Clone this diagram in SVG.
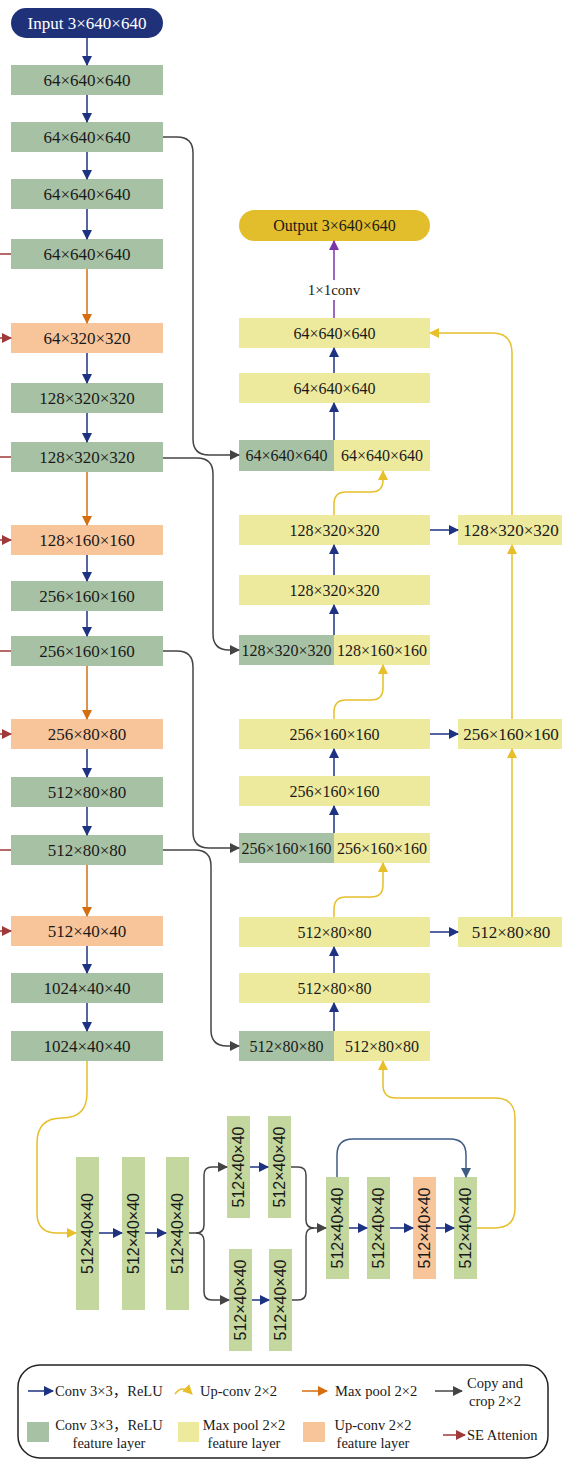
<svg xmlns="http://www.w3.org/2000/svg" width="562" height="1460" viewBox="0 0 562 1460">
<defs>
<marker id="aB" viewBox="0 0 10 10" refX="9" refY="5" markerWidth="10" markerHeight="10" markerUnits="userSpaceOnUse" orient="auto"><path d="M0,0 L10,5 L0,10 z" fill="#1e3282"/></marker>
<marker id="aO" viewBox="0 0 10 10" refX="9" refY="5" markerWidth="10" markerHeight="10" markerUnits="userSpaceOnUse" orient="auto"><path d="M0,0 L10,5 L0,10 z" fill="#d46e10"/></marker>
<marker id="aG" viewBox="0 0 10 10" refX="9" refY="5" markerWidth="10" markerHeight="10" markerUnits="userSpaceOnUse" orient="auto"><path d="M0,0 L10,5 L0,10 z" fill="#444"/></marker>
<marker id="aY" viewBox="0 0 10 10" refX="9" refY="5" markerWidth="10" markerHeight="10" markerUnits="userSpaceOnUse" orient="auto"><path d="M0,0 L10,5 L0,10 z" fill="#e6bf2b"/></marker>
<marker id="aR" viewBox="0 0 10 10" refX="9" refY="5" markerWidth="10" markerHeight="10" markerUnits="userSpaceOnUse" orient="auto"><path d="M0,0 L10,5 L0,10 z" fill="#a0393a"/></marker>
<marker id="aP" viewBox="0 0 10 10" refX="9" refY="5" markerWidth="10" markerHeight="10" markerUnits="userSpaceOnUse" orient="auto"><path d="M0,0 L10,5 L0,10 z" fill="#7b34a8"/></marker>
<marker id="aS" viewBox="0 0 10 10" refX="9" refY="5" markerWidth="10" markerHeight="10" markerUnits="userSpaceOnUse" orient="auto"><path d="M0,0 L10,5 L0,10 z" fill="#3e5d85"/></marker>
</defs>
<style>
.g{fill:#a7c1a4}.y{fill:#ede99d}.o{fill:#f8c49a}.v{fill:#c4d79f}
.t{font-family:"Liberation Serif","Times New Roman",serif;font-size:17px;fill:#1a1a1a;text-anchor:middle;dominant-baseline:central}
.tc{font-size:16px}
.tw{fill:#ffffff}
.tv{font-family:"Liberation Sans",Arial,sans-serif;font-size:16px;fill:#1a1a1a;text-anchor:middle;dominant-baseline:central}
.c{fill:none;stroke-width:1.5}
.cb{stroke:#1e3282;marker-end:url(#aB)}
.co{stroke:#d46e10;marker-end:url(#aO)}
.cg{stroke:#444;marker-end:url(#aG)}
.cy{stroke:#e6bf2b;marker-end:url(#aY)}
.cr{stroke:#a0393a}
.cp{stroke:#7b34a8}
.cs{stroke:#3e5d85;marker-end:url(#aS)}
.lg{font-family:"Liberation Serif","Times New Roman","Noto Sans CJK SC",serif;font-size:14.5px;fill:#1a1a1a;dominant-baseline:central}
.lm{text-anchor:middle}
</style>
<rect width="562" height="1460" fill="#ffffff"/>

<!-- Encoder column -->
<g id="input"><rect x="11" y="8" width="152" height="30" rx="15" fill="#1f3279"/><text class="t tw" x="87" y="23">Input 3×640×640</text></g>
<g id="e1"><rect class="g" x="11" y="65" width="152" height="30"/><text class="t" x="87" y="80">64×640×640</text></g>
<g id="e2"><rect class="g" x="11" y="122" width="152" height="30"/><text class="t" x="87" y="137">64×640×640</text></g>
<g id="e3"><rect class="g" x="11" y="179" width="152" height="30"/><text class="t" x="87" y="194">64×640×640</text></g>
<g id="e4"><rect class="g" x="11" y="239" width="152" height="30"/><text class="t" x="87" y="254">64×640×640</text></g>
<g id="e5"><rect class="o" x="11" y="323" width="152" height="30"/><text class="t" x="87" y="338">64×320×320</text></g>
<g id="e6"><rect class="g" x="11" y="383" width="152" height="30"/><text class="t" x="87" y="398">128×320×320</text></g>
<g id="e7"><rect class="g" x="11" y="442" width="152" height="30"/><text class="t" x="87" y="457">128×320×320</text></g>
<g id="e8"><rect class="o" x="11" y="525" width="152" height="30"/><text class="t" x="87" y="540">128×160×160</text></g>
<g id="e9"><rect class="g" x="11" y="581" width="152" height="30"/><text class="t" x="87" y="596">256×160×160</text></g>
<g id="e10"><rect class="g" x="11" y="636" width="152" height="30"/><text class="t" x="87" y="651">256×160×160</text></g>
<g id="e11"><rect class="o" x="11" y="719" width="152" height="30"/><text class="t" x="87" y="734">256×80×80</text></g>
<g id="e12"><rect class="g" x="11" y="777" width="152" height="30"/><text class="t" x="87" y="792">512×80×80</text></g>
<g id="e13"><rect class="g" x="11" y="835" width="152" height="30"/><text class="t" x="87" y="850">512×80×80</text></g>
<g id="e14"><rect class="o" x="11" y="916" width="152" height="30"/><text class="t" x="87" y="931">512×40×40</text></g>
<g id="e15"><rect class="g" x="11" y="973" width="152" height="30"/><text class="t" x="87" y="988">1024×40×40</text></g>
<g id="e16"><rect class="g" x="11" y="1031" width="152" height="30"/><text class="t" x="87" y="1046">1024×40×40</text></g>

<!-- Decoder column -->
<g id="output"><rect x="239" y="210" width="191" height="31" rx="15.5" fill="#e2be2c"/><text class="t tc" x="334.5" y="225.5">Output 3×640×640</text></g>
<g id="d1"><rect class="y" x="239" y="318" width="191" height="30"/><text class="t tc" x="334.5" y="333">64×640×640</text></g>
<g id="d2"><rect class="y" x="239" y="373" width="191" height="30"/><text class="t tc" x="334.5" y="388">64×640×640</text></g>
<g id="d3"><rect class="g" x="239" y="440" width="95" height="31"/><rect class="y" x="334" y="440" width="96" height="31"/><text class="t tc" x="286.5" y="455.5">64×640×640</text><text class="t tc" x="382" y="455.5">64×640×640</text></g>
<g id="d4"><rect class="y" x="239" y="515" width="191" height="30"/><text class="t tc" x="334.5" y="530">128×320×320</text></g>
<g id="d5"><rect class="y" x="239" y="575" width="191" height="30"/><text class="t tc" x="334.5" y="590">128×320×320</text></g>
<g id="d6"><rect class="g" x="239" y="635" width="95" height="30"/><rect class="y" x="334" y="635" width="96" height="30"/><text class="t tc" x="286.5" y="650">128×320×320</text><text class="t tc" x="382" y="650">128×160×160</text></g>
<g id="d7"><rect class="y" x="239" y="719" width="191" height="30"/><text class="t tc" x="334.5" y="734">256×160×160</text></g>
<g id="d8"><rect class="y" x="239" y="776" width="191" height="30"/><text class="t tc" x="334.5" y="791">256×160×160</text></g>
<g id="d9"><rect class="g" x="239" y="833" width="95" height="30"/><rect class="y" x="334" y="833" width="96" height="30"/><text class="t tc" x="286.5" y="848">256×160×160</text><text class="t tc" x="382" y="848">256×160×160</text></g>
<g id="d10"><rect class="y" x="239" y="917" width="191" height="30"/><text class="t tc" x="334.5" y="932">512×80×80</text></g>
<g id="d11"><rect class="y" x="239" y="973" width="191" height="30"/><text class="t tc" x="334.5" y="988">512×80×80</text></g>
<g id="d12"><rect class="g" x="239" y="1031" width="95" height="30"/><rect class="y" x="334" y="1031" width="96" height="30"/><text class="t tc" x="286.5" y="1046">512×80×80</text><text class="t tc" x="382" y="1046">512×80×80</text></g>
<g id="r1"><rect class="y" x="458" y="515" width="104" height="30"/><text class="t" x="511" y="530">128×320×320</text></g>
<g id="r2"><rect class="y" x="458" y="719" width="104" height="30"/><text class="t" x="511" y="734">256×160×160</text></g>
<g id="r3"><rect class="y" x="458" y="917" width="104" height="30"/><text class="t" x="511" y="932">512×80×80</text></g>

<!-- Bottleneck -->
<g id="bA"><rect class="v" x="76" y="1157" width="23" height="153"/><text class="tv" transform="translate(87.5,1233.5) rotate(-90)">512×40×40</text></g>
<g id="bB"><rect class="v" x="122" y="1157" width="23" height="153"/><text class="tv" transform="translate(133.5,1233.5) rotate(-90)">512×40×40</text></g>
<g id="bC"><rect class="v" x="166" y="1157" width="23" height="153"/><text class="tv" transform="translate(177.5,1233.5) rotate(-90)">512×40×40</text></g>
<g id="bD"><rect class="v" x="227" y="1116" width="23" height="102"/><text class="tv" transform="translate(238.5,1167) rotate(-90)">512×40×40</text></g>
<g id="bE"><rect class="v" x="268" y="1116" width="23" height="102"/><text class="tv" transform="translate(279.5,1167) rotate(-90)">512×40×40</text></g>
<g id="bF"><rect class="v" x="229" y="1249" width="23" height="102"/><text class="tv" transform="translate(240.5,1300) rotate(-90)">512×40×40</text></g>
<g id="bG"><rect class="v" x="269" y="1249" width="23" height="102"/><text class="tv" transform="translate(280.5,1300) rotate(-90)">512×40×40</text></g>
<g id="bH"><rect class="v" x="326" y="1177" width="23" height="102"/><text class="tv" transform="translate(337.5,1228) rotate(-90)">512×40×40</text></g>
<g id="bI"><rect class="v" x="367" y="1177" width="23" height="102"/><text class="tv" transform="translate(378.5,1228) rotate(-90)">512×40×40</text></g>
<g id="bJ"><rect class="o" x="413" y="1177" width="23" height="102"/><text class="tv" transform="translate(424.5,1228) rotate(-90)">512×40×40</text></g>
<g id="bK"><rect class="v" x="454" y="1177" width="23" height="102"/><text class="tv" transform="translate(465.5,1228) rotate(-90)">512×40×40</text></g>

<!-- Connectors -->
<g id="connectors">
<path class="c cb" d="M87,38 V65"/>
<path class="c cb" d="M87,95 V122"/>
<path class="c cb" d="M87,152 V179"/>
<path class="c cb" d="M87,209 V239"/>
<path class="c cb" d="M87,353 V383"/>
<path class="c cb" d="M87,413 V442"/>
<path class="c cb" d="M87,555 V581"/>
<path class="c cb" d="M87,611 V636"/>
<path class="c cb" d="M87,749 V777"/>
<path class="c cb" d="M87,807 V835"/>
<path class="c cb" d="M87,946 V973"/>
<path class="c cb" d="M87,1003 V1031"/>
<path class="c co" d="M87,269 V323"/>
<path class="c co" d="M87,472 V525"/>
<path class="c co" d="M87,666 V719"/>
<path class="c co" d="M87,865 V916"/>
<path class="c cr" d="M0,254 H11"/>
<path class="c cr" d="M0,457 H11"/>
<path class="c cr" d="M0,651 H11"/>
<path class="c cr" d="M0,850 H11"/>
<path class="c cr" d="M0,338 H11" marker-end="url(#aR)"/>
<path class="c cr" d="M0,540 H11" marker-end="url(#aR)"/>
<path class="c cr" d="M0,734 H11" marker-end="url(#aR)"/>
<path class="c cr" d="M0,931 H11" marker-end="url(#aR)"/>
<path class="c cg" d="M163,137 H177 Q193,137 193,153 V439 Q193,455 209,455 H239"/>
<path class="c cg" d="M163,458 H197 Q213,458 213,474 V634 Q213,650 229,650 H239"/>
<path class="c cg" d="M163,651 H177 Q193,651 193,667 V832 Q193,848 209,848 H239"/>
<path class="c cg" d="M163,850 H195 Q211,850 211,866 V1030 Q211,1046 227,1046 H239"/>
<path class="c cb" d="M334,1031 V1003"/>
<path class="c cb" d="M334,973 V947"/>
<path class="c cb" d="M334,833 V806"/>
<path class="c cb" d="M334,776 V749"/>
<path class="c cb" d="M334,635 V605"/>
<path class="c cb" d="M334,575 V545"/>
<path class="c cb" d="M334,440 V403"/>
<path class="c cb" d="M334,373 V348"/>
<path class="c cb" d="M430,530 H458"/>
<path class="c cb" d="M430,734 H458"/>
<path class="c cb" d="M430,932 H458"/>
<path class="c cp" d="M334,318 V300"/>
<path class="c cp" d="M334,280 V241" marker-end="url(#aP)"/>
<text class="t" style="font-size:15px" x="334" y="290">1×1conv</text>
<path class="c cy" d="M334,515 V504 Q334,492 346,492 H371 Q383,492 383,480 V471"/>
<path class="c cy" d="M334,719 V712 Q334,700 346,700 H371 Q383,700 383,688 V665"/>
<path class="c cy" d="M334,917 V909 Q334,897 346,897 H371 Q383,897 383,885 V863"/>
<path class="c cy" d="M512,917 V749"/>
<path class="c cy" d="M512,719 V545"/>
<path class="c cy" d="M512,515 V353 Q512,333 492,333 H430"/>
<path class="c cy" d="M477,1228 H495 Q515,1228 515,1208 V1118 Q515,1098 495,1098 H396 Q383,1098 383,1085 V1061"/>
<path class="c cy" d="M87,1061 V1093 Q87,1118 62,1118 Q37,1118 37,1143 V1213 Q37,1233 57,1233 H76"/>
<path class="c cb" d="M99,1233 H122"/>
<path class="c cb" d="M145,1233 H166"/>
<path class="c cg" d="M189,1233 H196 Q204,1233 204,1225 V1175 Q204,1167 212,1167 H227"/>
<path class="c cg" d="M196,1233 Q204,1233 204,1241 V1292 Q204,1300 212,1300 H229"/>
<path class="c cb" d="M250,1167 H268"/>
<path class="c cb" d="M252,1300 H269"/>
<path class="c cg" d="M291,1167 H298 Q306,1167 306,1175 V1220 Q306,1228 314,1228 H326"/>
<path class="c" stroke="#444" d="M292,1300 H298 Q306,1300 306,1292 V1236 Q306,1228 314,1228"/>
<path class="c cb" d="M349,1228 H367"/>
<path class="c cb" d="M390,1228 H413"/>
<path class="c cb" d="M436,1228 H454"/>
<path class="c cs" d="M337,1177 V1155 Q337,1139 353,1139 H450 Q466,1139 466,1155 V1177"/>
</g>

<!-- Legend -->
<g id="legend">
<rect x="18" y="1365" width="530" height="93" rx="22" fill="none" stroke="#222" stroke-width="1.5"/>
<path class="c cb" d="M28,1391 H53"/>
<text class="lg" x="55" y="1391">Conv 3×3，ReLU</text>
<path class="c cy" d="M175,1394 Q182,1384 192,1394"/>
<text class="lg" x="200" y="1391">Up-conv 2×2</text>
<path class="c co" d="M302,1391 H327"/>
<text class="lg" x="335" y="1391">Max pool 2×2</text>
<path class="c cg" d="M435,1391 H462"/>
<text class="lg lm" x="495" y="1383">Copy and</text>
<text class="lg lm" x="495" y="1401">crop 2×2</text>
<rect class="g" x="27" y="1422" width="22" height="20"/>
<text class="lg lm" x="109" y="1425">Conv 3×3，ReLU</text>
<text class="lg lm" x="109" y="1443">feature layer</text>
<rect class="y" x="178" y="1422" width="21" height="20"/>
<text class="lg lm" x="244" y="1425">Max pool 2×2</text>
<text class="lg lm" x="244" y="1443">feature layer</text>
<rect class="o" x="303" y="1422" width="22" height="20"/>
<text class="lg lm" x="373" y="1425">Up-conv 2×2</text>
<text class="lg lm" x="373" y="1443">feature layer</text>
<path class="c cr" d="M443,1435 H465" marker-end="url(#aR)"/>
<text class="lg" x="467" y="1435">SE Attenion</text>
</g>
</svg>
